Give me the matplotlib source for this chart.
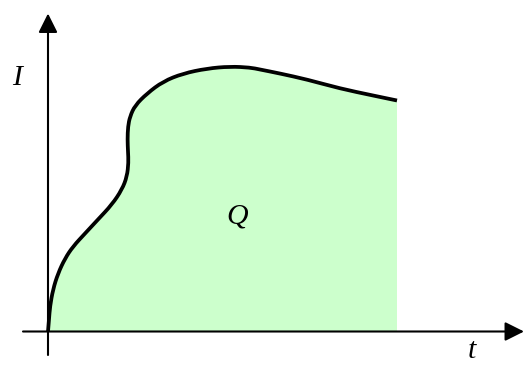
import matplotlib
matplotlib.use('Agg')
import numpy as np
import matplotlib.pyplot as plt
from matplotlib.path import Path
from matplotlib.patches import PathPatch

# Curve: time t and current I (pixel-ish units,
# origin where the two axes cross)
t = [0, 1, 2, 5, 10, 17, 25, 37, 50, 64, 74, 79, 80.5, 80, 79.5, 80, 82,
     87, 99, 115, 135, 159, 182, 202, 212, 232, 259, 292, 325, 349]
current = [0, 12, 25, 42, 58, 73, 85, 98, 112, 127, 142, 155, 169, 180,
           192, 205, 215, 226, 238, 250, 258, 263, 265, 264, 262, 258,
           252, 243, 236, 231]

axis_labels = ['I', 't']
area_label = 'Q'

pts = np.column_stack([t, current]).astype(float)


def smooth_path(p):
    # quadratic bezier through the midpoints, read points as controls
    verts = [p[0]]
    codes = [Path.MOVETO]
    for i in range(1, len(p) - 1):
        verts += [p[i], (p[i] + p[i + 1]) / 2]
        codes += [Path.CURVE3, Path.CURVE3]
    verts.append(p[-1])
    codes.append(Path.LINETO)
    return verts, codes


fig = plt.figure(figsize=(5.23, 3.65), dpi=100)
ax = fig.add_axes([0, 0, 1, 1])
ax.set_xlim(-48, 475)
ax.set_ylim(-33.5, 331.5)
ax.axis('off')

verts, codes = smooth_path(pts)

# Shaded charge area under the curve
fill_verts = verts + [(pts[-1, 0], 0), (pts[0, 0], 0), (0, 0)]
fill_codes = codes + [Path.LINETO, Path.LINETO, Path.CLOSEPOLY]
ax.add_patch(PathPatch(Path(fill_verts, fill_codes), facecolor='#ccffcc',
                       edgecolor='none', zorder=1))
ax.add_patch(PathPatch(Path(verts, codes), facecolor='none',
                       edgecolor='black', lw=2.7, joinstyle='round',
                       capstyle='butt', zorder=3))

# Axes with arrow heads
arrow = dict(arrowstyle='-|>,head_length=0.8,head_width=0.4',
             mutation_scale=14.5, lw=1.5, color='black',
             shrinkA=0, shrinkB=0)
ax.annotate('', xy=(0, 318), xytext=(0, -23.5), arrowprops=arrow,
            annotation_clip=False, zorder=4)
ax.annotate('', xy=(476, 0), xytext=(-25, 0), arrowprops=arrow,
            annotation_clip=False, zorder=4)

font = dict(family='Liberation Serif', style='italic', size=21.5)
ax.text(-30.5, 246.5, axis_labels[0], ha='center', va='baseline', **font)
ax.text(424, -26, axis_labels[1], ha='center', va='baseline', **font)
ax.text(189.5, 107.5, area_label, ha='center', va='baseline', **font)

fig.savefig('out.png', dpi=100)
